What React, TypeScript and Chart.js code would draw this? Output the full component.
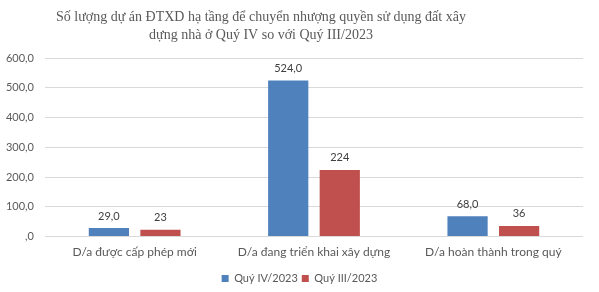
import React, { useEffect, useRef } from "react";
import { Chart, registerables } from "chart.js";

Chart.register(...registerables);

const titleLines = [
  "Số lượng dự án ĐTXD hạ tầng để chuyển nhượng quyền sử dụng đất xây",
  "dựng nhà ở Quý IV so với Quý III/2023",
];
const categories = [
  "D/a được cấp phép mới",
  "D/a đang triển khai xây dựng",
  "D/a hoàn thành trong quý",
];
const seriesNames = ["Quý IV/2023", "Quý III/2023"];
const q4Values = [29, 524, 68];
const q3Values = [23, 224, 36];
const q4Labels = ["29,0", "524,0", "68,0"];
const q3Labels = ["23", "224", "36"];
const yTicks = [0, 100, 200, 300, 400, 500, 600];

const BLUE = "#4F81BD";
const RED = "#C0504D";
const SANS = "Lato, 'Liberation Sans', sans-serif";

const titlePlugin = {
  id: "customTitle",
  afterDraw(chart: any) {
    const ctx = chart.ctx;
    ctx.save();
    ctx.fillStyle = "#595959";
    ctx.font = "14px 'Liberation Serif'";
    ctx.textAlign = "center";
    ctx.textBaseline = "middle";
    ctx.fillText(titleLines[0], 261, 17);
    ctx.fillText(titleLines[1], 261, 35);
    ctx.restore();
  },
};

const legendShiftPlugin = {
  id: "legendShift",
  afterLayout(chart: any) {
    if (chart.legend) {
      chart.legend.left += 8;
      chart.legend.right += 8;
    }
  },
};

const labelPlugin = {
  id: "barLabels",
  afterDatasetsDraw(chart: any) {
    const ctx = chart.ctx;
    const labelSets = [q4Labels, q3Labels];
    ctx.save();
    ctx.fillStyle = "#404040";
    ctx.font = "11px " + SANS;
    ctx.textAlign = "center";
    ctx.textBaseline = "middle";
    chart.data.datasets.forEach((_: any, di: number) => {
      const meta = chart.getDatasetMeta(di);
      meta.data.forEach((bar: any, i: number) => {
        ctx.fillText(labelSets[di][i], bar.x, bar.y - 12);
      });
    });
    ctx.restore();
  },
};

export default function App() {
  const ref = useRef<HTMLCanvasElement>(null);
  useEffect(() => {
    if (!ref.current) return;
    const chart = new Chart(ref.current, {
      type: "bar",
      data: {
        labels: categories,
        datasets: [
          { label: seriesNames[0], data: q4Values, backgroundColor: BLUE },
          { label: seriesNames[1], data: q3Values, backgroundColor: RED },
        ],
      },
      options: {
        responsive: false,
        animation: false,
        layout: { padding: { top: 58, left: 0, right: 16, bottom: -2 } },
        datasets: {
          bar: { categoryPercentage: 0.575, barPercentage: 0.78 },
        },
        scales: {
          x: {
            grid: { display: false, drawTicks: false },
            border: { display: false },
            afterFit(scale: any) {
              scale.height += 2;
            },
            ticks: {
              color: "#595959",
              font: { family: SANS, size: 12 },
              padding: 8,
              maxRotation: 0,
            },
          },
          y: {
            min: 0,
            max: 600,
            afterBuildTicks(scale: any) {
              scale.ticks = yTicks.map((v) => ({ value: v }));
            },
            afterFit(scale: any) {
              scale.width = 45;
            },
            grid: { color: "#D9D9D9", drawTicks: false },
            border: { display: false },
            ticks: {
              color: "#595959",
              font: { family: SANS, size: 11 },
              padding: 11,
              callback: (v: any) =>
                v === 0 ? ",0" : Number(v).toFixed(1).replace(".", ","),
            },
          },
        },
        plugins: {
          title: { display: false },
          tooltip: { enabled: false },
          legend: {
            position: "bottom",
            labels: {
              boxWidth: 7,
              boxHeight: 7,
              color: "#595959",
              font: { family: SANS, size: 11 },
              padding: 4,
            },
          },
        },
      },
      plugins: [titlePlugin, labelPlugin, legendShiftPlugin],
    });
    return () => chart.destroy();
  }, []);
  return (
    <div style={{ position: "fixed", left: 0, top: 0, width: 599, height: 292, background: "#fff" }}>
      <canvas ref={ref} width={599} height={292} style={{ width: 599, height: 292 }} />
    </div>
  );
}
